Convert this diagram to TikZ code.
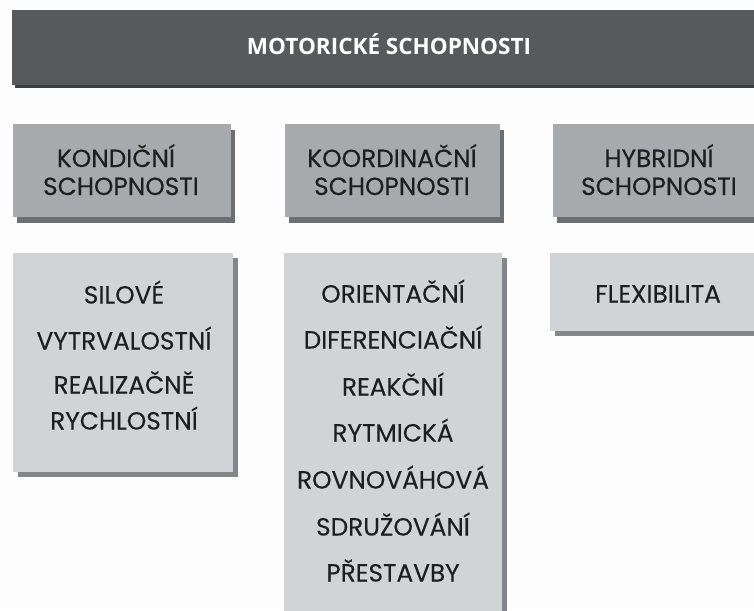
\documentclass[tikz,border=0pt]{standalone}
\usepackage{fontspec}
\setmainfont{Poppins}
\newfontfamily\itemfont[FakeBold=0.25]{Poppins}
\newfontfamily\titlefont{Open Sans}
\usetikzlibrary{shadows}
\definecolor{hdr}{HTML}{58595B}
\definecolor{hdrsh}{HTML}{3C3D3F}
\definecolor{topfill}{HTML}{A7A9AC}
\definecolor{topsh}{HTML}{6D6E71}
\definecolor{listfill}{HTML}{D1D3D4}
\definecolor{listsh}{HTML}{848689}
\definecolor{txt}{HTML}{1E1E1E}
\definecolor{bg}{HTML}{FDFDFD}
\tikzset{
  hdrbox/.style={anchor=north west, fill=hdr, inner sep=0pt, minimum width=754pt, minimum height=75pt,
    drop shadow={shadow xshift=3pt, shadow yshift=-3pt, fill=hdrsh, opacity=1}},
  catbox/.style={anchor=north west, fill=topfill, inner sep=0pt, minimum height=93pt,
    drop shadow={shadow xshift=3.5pt, shadow yshift=-6pt, fill=topsh, opacity=1}},
  listbox/.style={anchor=north west, fill=listfill, inner sep=0pt,
    drop shadow={shadow xshift=4.5pt, shadow yshift=-4.5pt, fill=listsh, opacity=1}},
  item/.style={anchor=base, text=txt, font=\itemfont\fontsize{24.8}{28}\selectfont, inner sep=0pt},
}
\begin{document}
\begin{tikzpicture}[x=1pt,y=-1pt]
\clip (0,0) rectangle (754,610);
\fill[bg] (0,0) rectangle (754,610);
% header
\node[hdrbox] (hdr) at (12,10) {};
\node[anchor=base, text=white, font=\titlefont\bfseries\fontsize{22.5}{26}\selectfont, inner sep=0pt] (title) at (389,55) {MOTORICKÉ SCHOPNOSTI};
% category boxes
\node[catbox, minimum width=218pt] (k) at (13,124) {};
\node[catbox, minimum width=215pt] (ko) at (285,124) {};
\node[catbox, minimum width=215pt] (h) at (553,124) {};
\node[item] (kt1) at (116,167) {KONDIČNÍ};
\node[item] (kt2) at (121,195) {SCHOPNOSTI};
\node[item] (kot1) at (392,167) {KOORDINAČNÍ};
\node[item] (kot2) at (392,195) {SCHOPNOSTI};
\node[item] (ht1) at (659,167) {HYBRIDNÍ};
\node[item] (ht2) at (659,195) {SCHOPNOSTI};
% list boxes
\node[listbox, minimum width=220pt, minimum height=219pt] (kl) at (13,253) {};
\node[listbox, minimum width=218pt, minimum height=400pt] (kol) at (284,253) {};
\node[listbox, minimum width=216pt, minimum height=78pt] (hl) at (550,253) {};
% list items
\node[item] (k1) at (124,303.5) {SILOVÉ};
\node[item] (k2) at (124,349.5) {VYTRVALOSTNÍ};
\node[item] (k3) at (124,393.5) {REALIZAČNĚ};
\node[item] (k4) at (124,429.5) {RYCHLOSTNÍ};
\node[item] (o1) at (393,302.5) {ORIENTAČNÍ};
\node[item] (o2) at (393,348.5) {DIFERENCIAČNÍ};
\node[item] (o3) at (393,395.5) {REAKČNÍ};
\node[item] (o4) at (393,441.5) {RYTMICKÁ};
\node[item] (o5) at (393,488.5) {ROVNOVÁHOVÁ};
\node[item] (o6) at (393,535.5) {SDRUŽOVÁNÍ};
\node[item] (o7) at (393,581.5) {PŘESTAVBY};
\node[item] (h1) at (658,302.5) {FLEXIBILITA};
\end{tikzpicture}
\end{document}
